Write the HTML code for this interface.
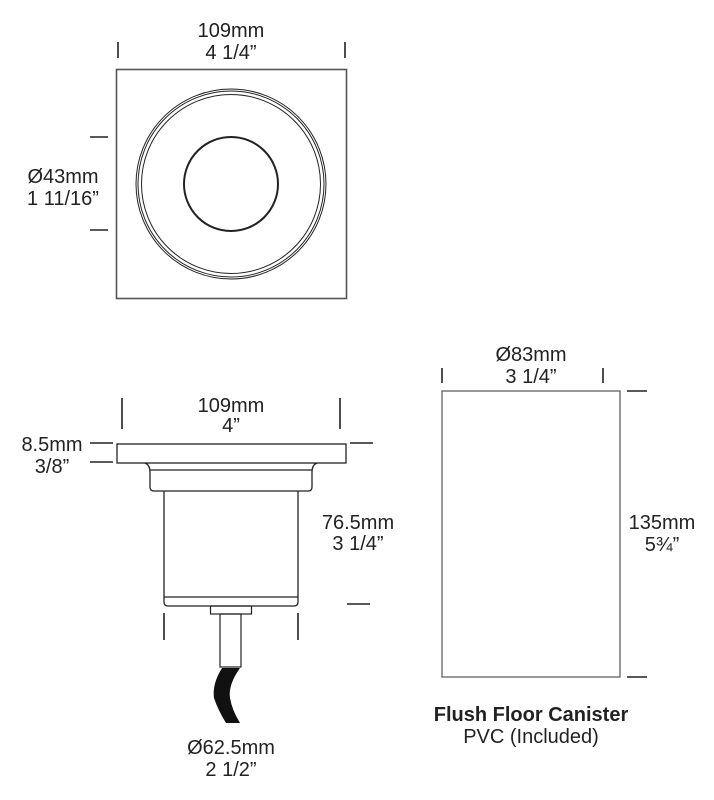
<!DOCTYPE html>
<html><head><meta charset="utf-8"><style>
html,body{margin:0;padding:0;background:#fff;}
svg{display:block}
text{font-family:"Liberation Sans",Arial,sans-serif;font-size:20px;fill:#222;text-anchor:middle}
</style></head><body>
<svg width="714" height="800" viewBox="0 0 714 800" xmlns="http://www.w3.org/2000/svg">
<g stroke="#222" stroke-width="1.6" fill="none">
<line x1="118" y1="42" x2="118" y2="58"/><line x1="345" y1="42" x2="345" y2="58"/>
<rect x="116.5" y="69.5" width="230" height="229" stroke="#555"/>
<circle cx="231" cy="184" r="95" stroke-width="1"/>
<circle cx="231" cy="184" r="93" stroke-width="1"/>
<circle cx="231" cy="184" r="89.5" stroke-width="1"/>
<circle cx="231" cy="184" r="47" stroke-width="2"/>
<line x1="90" y1="137" x2="108" y2="137"/><line x1="90" y1="230" x2="108" y2="230"/>
<line x1="122" y1="398" x2="122" y2="429"/><line x1="340" y1="398" x2="340" y2="429"/>
<line x1="90" y1="443" x2="113" y2="443"/><line x1="90" y1="462" x2="113" y2="462"/>
<line x1="350" y1="443" x2="373" y2="443"/>
<line x1="347" y1="604" x2="370" y2="604"/>
<rect x="117" y="444" width="229" height="19" stroke-width="1.3"/>
<path d="M145 463 Q150 465 150 472 L150 487 Q150 491 154 491 L308 491 Q312 491 312 487 L312 472 Q312 465 317 463" stroke-width="1.3"/>
<line x1="150" y1="470" x2="312" y2="470" stroke-width="1.2"/>
<path d="M164 491 L164 602 Q164 606 168 606 L294 606 Q298 606 298 602 L298 491" stroke-width="1.3"/>
<line x1="164" y1="597" x2="298" y2="597" stroke-width="1.2"/>
<rect x="210.5" y="606" width="41" height="8" stroke-width="1.2"/>
<rect x="220" y="614" width="21" height="53" stroke-width="1.2"/>
<line x1="164" y1="613" x2="164" y2="640"/><line x1="298" y1="613" x2="298" y2="640"/>
<line x1="442" y1="368" x2="442" y2="383"/><line x1="603" y1="368" x2="603" y2="383"/>
<rect x="442" y="391" width="178" height="286" stroke="#555" stroke-width="1.2"/>
<line x1="627" y1="391" x2="647" y2="391"/><line x1="627" y1="677" x2="647" y2="677"/>
</g>
<path d="M222 668 L240 668 Q228 685 230 698 Q232 710 240 723 L226 723 Q218 710 214 698 Q212 684 222 668 Z" fill="#111"/>
<text x="231" y="37">109mm</text><text x="231" y="59">4 1/4”</text>
<text x="63" y="183">Ø43mm</text><text x="63" y="205">1 11/16”</text>
<text x="231" y="412">109mm</text><text x="231" y="432">4”</text>
<text x="52" y="451">8.5mm</text><text x="52" y="473">3/8”</text>
<text x="358" y="529">76.5mm</text><text x="358" y="550">3 1/4”</text>
<text x="231" y="754">Ø62.5mm</text><text x="231" y="776">2 1/2”</text>
<text x="531" y="361">Ø83mm</text><text x="531" y="383">3 1/4”</text>
<text x="662" y="529">135mm</text><text x="662" y="551">5¾”</text>
<text x="531" y="721" style="font-weight:bold">Flush Floor Canister</text>
<text x="531" y="743">PVC (Included)</text>
</svg>
</body></html>
